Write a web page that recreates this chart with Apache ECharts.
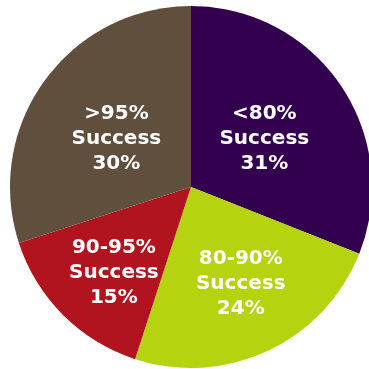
<!DOCTYPE html>
<html>
<head>
<meta charset="utf-8">
<script src="https://cdn.jsdelivr.net/npm/echarts@6/dist/echarts.min.js"></script>
<style>
  html, body { margin: 0; padding: 0; background: #ffffff; }
  #chart { width: 369px; height: 369px; }
</style>
</head>
<body>
<div id="chart"></div>
<script>
// Share of items by success band, clockwise from 12 o'clock
const categories = ['<80%\nSuccess', '80-90%\nSuccess', '90-95%\nSuccess', '>95%\nSuccess'];
const shares = [31, 24, 15, 30];
const colors = ['#330050', '#b5d30f', '#b1141f', '#5f4f3c'];
// Nudges that move each label off the slice's mid-radius point
const labelOffsets = [[-4, 4], [10, 12], [-11, 20], [1, 7]];

const chart = echarts.init(document.getElementById('chart'), null, { renderer: 'canvas' });

chart.setOption({
  animation: false,
  series: [{
    type: 'pie',
    center: [191, 187],
    radius: 181,
    startAngle: 90,
    clockwise: true,
    avoidLabelOverlap: false,
    label: {
      show: true,
      position: 'inside',
      formatter: p => p.name + '\n' + p.value + '%',
      color: '#ffffff',
      fontFamily: 'DejaVu Sans',
      fontWeight: 'bold',
      fontSize: 20,
      lineHeight: 25,
      align: 'center'
    },
    labelLine: { show: false },
    itemStyle: { borderWidth: 0 },
    emphasis: { disabled: true },
    data: categories.map((name, i) => ({
      name: name,
      value: shares[i],
      itemStyle: { color: colors[i] },
      label: { offset: labelOffsets[i] }
    }))
  }]
});
</script>
</body>
</html>
